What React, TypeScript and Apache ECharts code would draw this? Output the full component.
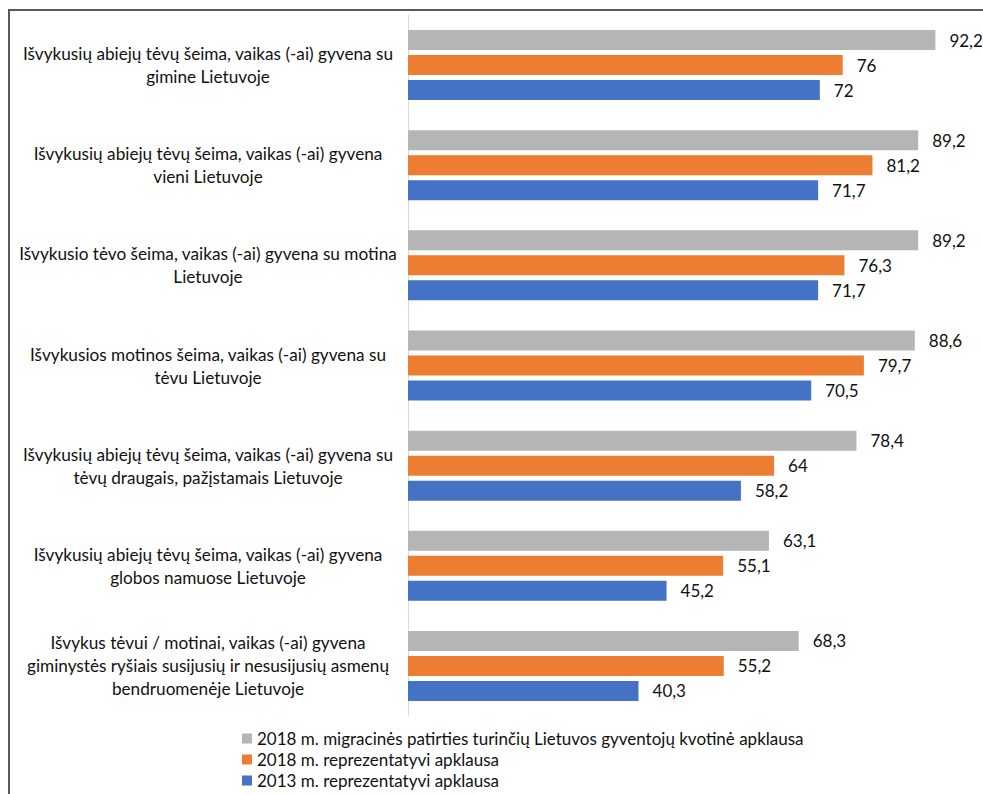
import React, { useEffect, useRef } from "react";
import * as echarts from "echarts";

const categories = [
  "Išvykusių abiejų tėvų šeima, vaikas (-ai) gyvena su\ngimine Lietuvoje",
  "Išvykusių abiejų tėvų šeima, vaikas (-ai) gyvena\nvieni Lietuvoje",
  "Išvykusio tėvo šeima, vaikas (-ai) gyvena su motina\nLietuvoje",
  "Išvykusios motinos šeima, vaikas (-ai) gyvena su\ntėvu Lietuvoje",
  "Išvykusių abiejų tėvų šeima, vaikas (-ai) gyvena su\ntėvų draugais, pažįstamais Lietuvoje",
  "Išvykusių abiejų tėvų šeima, vaikas (-ai) gyvena\nglobos namuose Lietuvoje",
  "Išvykus tėvui / motinai, vaikas (-ai) gyvena\ngiminystės ryšiais susijusių ir nesusijusių asmenų\nbendruomenėje Lietuvoje",
];

const seriesNames = [
  "2018 m. migracinės patirties turinčių Lietuvos gyventojų kvotinė apklausa",
  "2018 m. reprezentatyvi apklausa",
  "2013 m. reprezentatyvi apklausa",
];

const kvotine2018 = [92.2, 89.2, 89.2, 88.6, 78.4, 63.1, 68.3];
const reprezentatyvi2018 = [76, 81.2, 76.3, 79.7, 64, 55.1, 55.2];
const reprezentatyvi2013 = [72, 71.7, 71.7, 70.5, 58.2, 45.2, 40.3];

const colors = ["#b5b5b5", "#ed7d31", "#4472c4"];
const FONT = "Lato, 'Open Sans', sans-serif";

export default function App() {
  const ref = useRef<HTMLDivElement>(null);
  useEffect(() => {
    if (!ref.current) return;
    const chart = echarts.init(ref.current, null, { renderer: "svg" });
    const dataSets = [kvotine2018, reprezentatyvi2018, reprezentatyvi2013];
    chart.setOption({
      animation: false,
      backgroundColor: "#ffffff",
      textStyle: { fontFamily: FONT },
      grid: { left: 408, right: 3, top: 15, height: 701 },
      xAxis: {
        type: "value",
        min: 0,
        max: 100,
        show: false,
        splitLine: { show: false },
      },
      yAxis: {
        type: "category",
        inverse: true,
        data: categories,
        axisTick: { show: false },
        axisLine: { show: true, lineStyle: { color: "#d9d9d9", width: 1 } },
        axisLabel: {
          align: "center",
          margin: 200,
          fontSize: 17.2,
          lineHeight: 23,
          color: "#111111",
          fontFamily: FONT,
        },
      },
      legend: {
        orient: "vertical",
        left: 242,
        top: 730,
        height: 64,
        padding: 0,
        itemWidth: 10,
        itemHeight: 10,
        itemGap: 4,
        icon: "rect",
        data: seriesNames,
        textStyle: { fontSize: 17, lineHeight: 17, color: "#111111", fontFamily: FONT },
      },
      graphic: [
        {
          type: "rect",
          shape: { x: 9, y: 10, width: 1000, height: 1000 },
          style: { fill: "none", stroke: "#595959", lineWidth: 2 },
          silent: true,
        },
      ],
      series: seriesNames.map((name, i) => ({
        name,
        type: "bar",
        data: dataSets[i],
        barWidth: 20,
        barGap: "25%",
        itemStyle: { color: colors[i] },
        label: {
          show: true,
          position: "right",
          distance: 14,
          fontSize: 17,
          color: "#111111",
          fontFamily: FONT,
          formatter: (p: any) => String(p.value).replace(".", ","),
        },
      })),
    });
    return () => chart.dispose();
  }, []);
  return (
    <div
      ref={ref}
      style={{ position: "absolute", left: 0, top: 0, width: 983, height: 794 }}
    />
  );
}
